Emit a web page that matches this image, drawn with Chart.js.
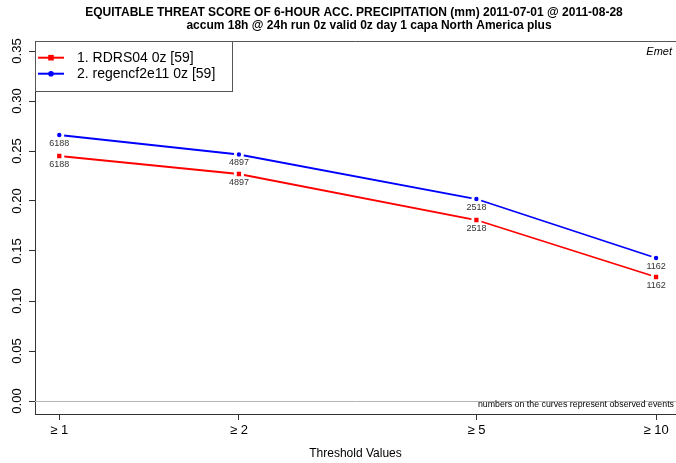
<!DOCTYPE html>
<html>
<head>
<meta charset="utf-8">
<script src="https://cdn.jsdelivr.net/npm/chart.js@4"></script>
<style>
  html, body { margin: 0; padding: 0; background: #fff; }
  #wrap { width: 676px; height: 463px; }
</style>
</head>
<body>
<div id="wrap"><canvas id="ets"></canvas></div>
<script>
// thresholds (mm) and ETS per model
const thresholds = [1, 2, 5, 10];
const rdrsScores = [0.245, 0.227, 0.181, 0.124];
const regenScores = [0.266, 0.2465, 0.202, 0.143];
const observedEvents = [6188, 4897, 2518, 1162];
const yTicks = [0, 0.05, 0.10, 0.15, 0.20, 0.25, 0.30, 0.35];
const seriesNames = ['1. RDRS04 0z [59]', '2. regencf2e11 0z [59]'];
const seriesColors = ['#ff0000', '#0000ff'];

const TITLE_1 = 'EQUITABLE THREAT SCORE OF 6-HOUR ACC. PRECIPITATION (mm) 2011-07-01 @ 2011-08-28';
const TITLE_2 = 'accum 18h @ 24h run 0z valid 0z day 1 capa North America plus';
const FONT = '"Liberation Sans", Arial, Helvetica, sans-serif';

function toPoints(values) {
    return thresholds.map((t, i) => ({ x: t, y: values[i] }));
}

// R-style decorations: box, rotated y labels, legend, titles, event counts
const decor = {
    id: 'decor',
    beforeDraw(chart) {
        const ctx = chart.ctx;
        ctx.save();
        ctx.fillStyle = '#fff';
        ctx.fillRect(0, 0, chart.width, chart.height);
        ctx.restore();
    },
    beforeDatasetsDraw(chart) {
        const ctx = chart.ctx;
        const area = chart.chartArea;
        const y0 = Math.round(chart.scales.y.getPixelForValue(0)) + 0.5;
        ctx.save();
        ctx.strokeStyle = '#b4b4b4';
        ctx.lineWidth = 1;
        ctx.beginPath();
        ctx.moveTo(area.left, y0);
        ctx.lineTo(area.right, y0);
        ctx.stroke();
        ctx.restore();
    },
    afterDatasetsDraw(chart) {
        const ctx = chart.ctx;
        ctx.save();
        ctx.font = '9px ' + FONT;
        ctx.fillStyle = '#333';
        ctx.textAlign = 'center';
        ctx.textBaseline = 'middle';
        chart.data.datasets.forEach((ds, di) => {
            const meta = chart.getDatasetMeta(di);
            meta.data.forEach((pt, i) => {
                ctx.fillText(String(observedEvents[i]), pt.x, pt.y + 8.5);
            });
        });
        ctx.restore();
    },
    afterDraw(chart) {
        const ctx = chart.ctx;
        const area = chart.chartArea;
        const yScale = chart.scales.y;
        ctx.save();

        // top edge of the box
        ctx.strokeStyle = '#555';
        ctx.lineWidth = 1;
        ctx.beginPath();
        ctx.moveTo(area.left, Math.round(area.top) + 0.5);
        ctx.lineTo(area.right, Math.round(area.top) + 0.5);
        ctx.stroke();

        // y tick labels, rotated like R's las=0
        ctx.fillStyle = '#000';
        ctx.font = '13px ' + FONT;
        ctx.textAlign = 'center';
        ctx.textBaseline = 'middle';
        yScale.ticks.forEach(t => {
            const py = yScale.getPixelForValue(t.value);
            ctx.save();
            ctx.translate(17, py);
            ctx.rotate(-Math.PI / 2);
            ctx.fillText(t.value.toFixed(2), 0, 0);
            ctx.restore();
        });

        // titles
        ctx.font = 'bold 12px ' + FONT;
        ctx.fillText(TITLE_1, 354, 13);
        ctx.fillText(TITLE_2, 369, 26);

        // model tag
        ctx.font = 'italic 11px ' + FONT;
        ctx.textAlign = 'right';
        ctx.fillText('Emet', 672, 52);

        // footnote
        ctx.font = '8.8px ' + FONT;
        ctx.fillText('numbers on the curves represent observed events', 674, 404.5);

        // legend box
        const lx = Math.round(area.left) + 0.5, ly = Math.round(area.top) + 0.5;
        ctx.fillStyle = '#fff';
        ctx.fillRect(lx, ly, 197, 50);
        ctx.strokeStyle = '#555';
        ctx.strokeRect(lx, ly, 197, 50);
        ctx.font = '14px ' + FONT;
        ctx.textAlign = 'left';
        seriesNames.forEach((name, i) => {
            const rowY = 57.7 + i * 16;
            ctx.strokeStyle = seriesColors[i];
            ctx.fillStyle = seriesColors[i];
            ctx.lineWidth = 2;
            ctx.beginPath();
            ctx.moveTo(38, rowY);
            ctx.lineTo(64, rowY);
            ctx.stroke();
            if (i === 0) {
                ctx.fillRect(51 - 2.8, rowY - 2.8, 5.6, 5.6);
            } else {
                ctx.beginPath();
                ctx.arc(51, rowY, 2.8, 0, Math.PI * 2);
                ctx.fill();
            }
            ctx.fillStyle = '#000';
            ctx.textBaseline = 'middle';
            ctx.fillText(name, 77, rowY);
        });
        ctx.restore();
    }
};

new Chart(document.getElementById('ets'), {
    type: 'line',
    data: {
        datasets: [
            {
                label: seriesNames[0],
                data: toPoints(rdrsScores),
                borderColor: seriesColors[0],
                backgroundColor: seriesColors[0],
                borderWidth: 1.8,
                pointStyle: 'rect',
                pointRadius: 5.06,
                pointBorderWidth: 2.85,
                pointBorderColor: '#fff',
                pointBackgroundColor: seriesColors[0],
                tension: 0
            },
            {
                label: seriesNames[1],
                data: toPoints(regenScores),
                borderColor: seriesColors[1],
                backgroundColor: seriesColors[1],
                borderWidth: 1.8,
                pointStyle: 'circle',
                pointRadius: 3.6,
                pointBorderWidth: 2.8,
                pointBorderColor: '#fff',
                pointBackgroundColor: seriesColors[1],
                tension: 0
            }
        ]
    },
    options: {
        responsive: true,
        maintainAspectRatio: false,
        animation: false,
        events: [],
        layout: { autoPadding: false, padding: { top: 41, left: 0, right: 0, bottom: 0 } },
        scales: {
            x: {
                type: 'logarithmic',
                min: 0.9106,
                max: 10.8,
                afterBuildTicks: scale => {
                    scale.ticks = thresholds.map(v => ({ value: v }));
                },
                afterFit: scale => {
                    scale.height = 49;
                    scale.paddingLeft = 0;
                    scale.paddingRight = 0;
                },
                ticks: {
                    autoSkip: false,
                    maxRotation: 0,
                    minRotation: 0,
                    padding: 3,
                    color: '#000',
                    font: { family: FONT, size: 13 },
                    callback: value => '\u2265 ' + value
                },
                grid: {
                    drawOnChartArea: false,
                    drawTicks: true,
                    tickLength: 6,
                    tickColor: '#333'
                },
                border: { display: true, color: '#333', width: 1 },
                title: {
                    display: true,
                    text: 'Threshold Values',
                    color: '#000',
                    font: { family: FONT, size: 12 },
                    padding: { top: 0, bottom: 2 }
                }
            },
            y: {
                type: 'linear',
                min: -0.013,
                max: 0.36,
                afterBuildTicks: scale => {
                    scale.ticks = yTicks.map(v => ({ value: v }));
                },
                afterFit: scale => {
                    scale.width = 35;
                    scale.paddingTop = 0;
                    scale.paddingBottom = 0;
                },
                ticks: { display: false },
                grid: {
                    drawOnChartArea: false,
                    drawTicks: true,
                    tickLength: 6,
                    tickColor: '#333'
                },
                border: { display: true, color: '#333', width: 1 }
            }
        },
        plugins: {
            legend: { display: false },
            title: { display: false },
            tooltip: { enabled: false }
        }
    },
    plugins: [decor]
});
</script>
</body>
</html>
